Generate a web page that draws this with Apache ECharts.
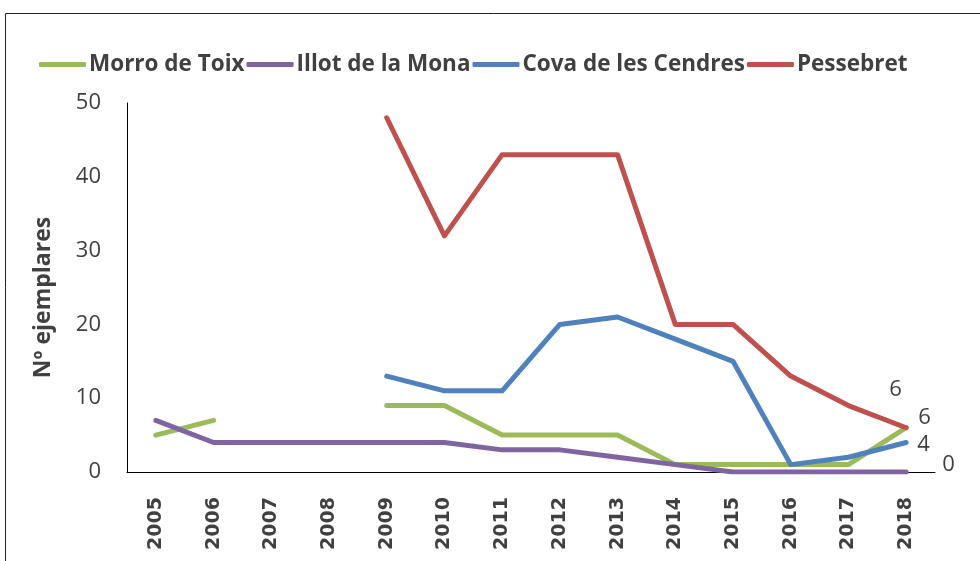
<!DOCTYPE html>
<html><head><meta charset="utf-8">
<script src="https://cdn.jsdelivr.net/npm/echarts@6/dist/echarts.min.js"></script>
<style>html,body{margin:0;padding:0;background:#fff}#c{width:980px;height:561px}</style>
</head><body><div id="c"></div>
<script>
const years = ['2005','2006','2007','2008','2009','2010','2011','2012','2013','2014','2015','2016','2017','2018'];
const morroDeToix = [5, 7, null, null, 9, 9, 5, 5, 5, 1, 1, 1, 1, 6];
const illotDeLaMona = [7, 4, 4, 4, 4, 4, 3, 3, 2, 1, 0, 0, 0, 0];
const covaDeLesCendres = [null, null, null, null, 13, 11, 11, 20, 21, 18, 15, 1, 2, 4];
const pessebret = [null, null, null, null, 48, 32, 43, 43, 43, 20, 20, 13, 9, 6];
const yTicks = [0, 10, 20, 30, 40, 50];

const txt = '#404040';
const font = 'Open Sans';
function ser(name, data, color, offset) {
  return {
    name: name, type: 'line', data: data, symbol: 'none',
    connectNulls: false, lineStyle: { width: 5, color: color, cap: 'round', join: 'round' },
    itemStyle: { color: color },
    endLabel: { show: true, formatter: '{c}', distance: 0, offset: offset, color: txt, fontFamily: font, fontSize: 22 }
  };
}
const chart = echarts.init(document.getElementById('c'), null, { renderer: 'canvas' });
chart.setOption({
  animation: false,
  backgroundColor: '#fff',
  graphic: [{ type: 'rect', shape: { x: 5.5, y: 13.5, width: 990, height: 570 }, style: { fill: 'none', stroke: '#222', lineWidth: 1 } }],
  legend: {
    top: 48, left: 34, itemWidth: 47, itemHeight: 5, itemGap: 2,
    icon: 'roundRect',
    textStyle: { color: txt, fontFamily: font, fontWeight: 'bold', fontSize: 22.5, padding: [0, 0, 0, -2] },
    data: ['Morro de Toix', 'Illot de la Mona', 'Cova de les Cendres', 'Pessebret']
  },
  grid: { left: 127, right: 45, top: 103, bottom: 89, containLabel: false },
  xAxis: {
    type: 'category', data: years, boundaryGap: true,
    axisLine: { lineStyle: { color: '#000', width: 1 } },
    axisTick: { show: false },
    axisLabel: { rotate: 90, margin: 25, color: txt, fontFamily: 'DejaVu Sans', fontWeight: 'bold', fontSize: 19, interval: 0 }
  },
  yAxis: {
    type: 'value', min: yTicks[0], max: yTicks[yTicks.length - 1], interval: 10,
    name: 'Nº ejemplares', nameLocation: 'middle', nameGap: 72,
    nameTextStyle: { color: txt, fontFamily: font, fontWeight: 'bold', fontSize: 23, padding: [0, 20, 0, 0] },
    axisLine: { show: true, lineStyle: { color: '#000', width: 1 } },
    axisTick: { show: false }, splitLine: { show: false },
    axisLabel: { margin: 26, color: txt, fontFamily: font, fontSize: 22 }
  },
  series: [
    ser('Morro de Toix', morroDeToix, '#9BBB59', [12, -10]),
    ser('Illot de la Mona', illotDeLaMona, '#8064A2', [36, -7]),
    ser('Cova de les Cendres', covaDeLesCendres, '#4F81BD', [11, 2]),
    ser('Pessebret', pessebret, '#C0504D', [-17, -38])
  ]
});
</script></body></html>
